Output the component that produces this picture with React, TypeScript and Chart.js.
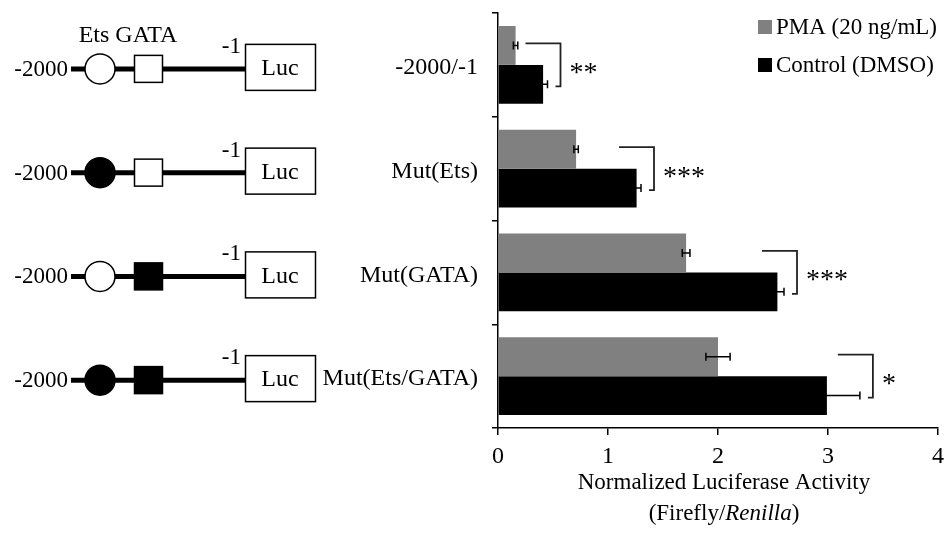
import React, { useEffect, useRef } from "react";
import { Chart, registerables } from "chart.js";

Chart.register(...registerables);

const categories = ["-2000/-1", "Mut(Ets)", "Mut(GATA)", "Mut(Ets/GATA)"];
const pmaValues = [0.16, 0.71, 1.71, 2.0];
const pmaErrors = [0.02, 0.02, 0.035, 0.11];
const controlValues = [0.41, 1.26, 2.54, 2.99];
const controlErrors = [0.04, 0.04, 0.06, 0.3];
const significance = ["**", "***", "***", "*"];
const etsMutated = [false, true, false, true];
const gataMutated = [false, false, true, true];
const seriesNames = ["PMA (20 ng/mL)", "Control (DMSO)"];
const seriesColors = ["#808080", "#000000"];

const SERIF = "'Liberation Serif', 'Times New Roman', serif";

const overlayPlugin = {
  id: "overlay",
  afterDraw(chart: any) {
    const ctx: CanvasRenderingContext2D = chart.ctx;
    const xs = chart.scales.x;
    const ys = chart.scales.y;
    const m0 = chart.getDatasetMeta(0);
    const m1 = chart.getDatasetMeta(1);
    ctx.save();
    ctx.strokeStyle = "#000";
    ctx.fillStyle = "#000";
    ctx.lineWidth = 1.5;

    // error bars
    const drawErr = (meta: any, vals: number[], errs: number[]) => {
      meta.data.forEach((el: any, i: number) => {
        const x1 = xs.getPixelForValue(vals[i] - errs[i]);
        const x2 = xs.getPixelForValue(vals[i] + errs[i]);
        const y = el.y;
        ctx.beginPath();
        ctx.moveTo(x1, y);
        ctx.lineTo(x2, y);
        ctx.moveTo(x1, y - 4);
        ctx.lineTo(x1, y + 4);
        ctx.moveTo(x2, y - 4);
        ctx.lineTo(x2, y + 4);
        ctx.stroke();
      });
    };
    drawErr(m0, pmaValues, pmaErrors);
    drawErr(m1, controlValues, controlErrors);

    // significance brackets
    ctx.strokeStyle = "#222";
    ctx.lineWidth = 1.8;
    categories.forEach((_, i) => {
      const vx = xs.getPixelForValue(controlValues[i] + controlErrors[i]) + 13;
      const yt = m0.data[i].y - 2;
      const yb = m1.data[i].y + 2;
      ctx.beginPath();
      ctx.moveTo(vx - 35, yt);
      ctx.lineTo(vx, yt);
      ctx.lineTo(vx, yb);
      ctx.lineTo(vx - 5, yb);
      ctx.stroke();
      ctx.font = `28px ${SERIF}`;
      ctx.textAlign = "left";
      ctx.textBaseline = "alphabetic";
      ctx.fillStyle = "#000";
      ctx.fillText(significance[i], vx + 9, (yt + yb) / 2 + 16);
    });

    // construct diagrams
    ctx.strokeStyle = "#000";
    categories.forEach((_, i) => {
      const cy = ys.getPixelForValue(i) + 4;
      ctx.font = `23px ${SERIF}`;
      ctx.fillStyle = "#000";
      ctx.textAlign = "right";
      ctx.textBaseline = "middle";
      ctx.fillText("-2000", 68, cy + 1);
      ctx.fillText("-1", 241, cy - 22);
      // thick line
      ctx.lineWidth = 5;
      ctx.beginPath();
      ctx.moveTo(71, cy);
      ctx.lineTo(246, cy);
      ctx.stroke();
      // Ets circle
      ctx.lineWidth = 1.5;
      ctx.beginPath();
      ctx.arc(100, cy, 15, 0, Math.PI * 2);
      ctx.fillStyle = etsMutated[i] ? "#000" : "#fff";
      ctx.fill();
      ctx.stroke();
      // GATA square
      ctx.fillStyle = gataMutated[i] ? "#000" : "#fff";
      ctx.fillRect(134.5, cy - 13.5, 28, 27);
      ctx.strokeRect(134.5, cy - 13.5, 28, 27);
      // Luc box
      ctx.fillStyle = "#fff";
      ctx.fillRect(245.5, cy - 24.5, 70, 46);
      ctx.strokeRect(245.5, cy - 24.5, 70, 46);
      ctx.fillStyle = "#000";
      ctx.textAlign = "center";
      ctx.font = `24px ${SERIF}`;
      ctx.fillText("Luc", 280, cy);
      if (i === 0) {
        ctx.fillText("Ets GATA", 128, cy - 33);
      }
    });

    // legend
    ctx.font = `23px ${SERIF}`;
    ctx.textAlign = "left";
    ctx.textBaseline = "middle";
    const legY = [27, 65];
    seriesNames.forEach((name, k) => {
      ctx.fillStyle = seriesColors[k];
      ctx.fillRect(758, legY[k] - 7, 14, 14);
      ctx.fillStyle = "#000";
      ctx.fillText(name, 776, legY[k] + 1);
    });

    // axis title
    const cx = 724;
    ctx.textAlign = "center";
    ctx.font = `23px ${SERIF}`;
    ctx.fillText("Normalized Luciferase Activity", cx, 483);
    const p1 = "(Firefly/";
    const p2 = "Renilla";
    const p3 = ")";
    ctx.font = `23px ${SERIF}`;
    const w1 = ctx.measureText(p1).width;
    const w3 = ctx.measureText(p3).width;
    ctx.font = `italic 23px ${SERIF}`;
    const w2 = ctx.measureText(p2).width;
    let sx = cx - (w1 + w2 + w3) / 2;
    ctx.textAlign = "left";
    ctx.font = `23px ${SERIF}`;
    ctx.fillText(p1, sx, 514);
    sx += w1;
    ctx.font = `italic 23px ${SERIF}`;
    ctx.fillText(p2, sx, 514);
    sx += w2;
    ctx.font = `23px ${SERIF}`;
    ctx.fillText(p3, sx, 514);

    ctx.restore();
  },
};

export default function App() {
  const ref = useRef<HTMLCanvasElement>(null);
  useEffect(() => {
    if (!ref.current) return;
    const chart = new Chart(ref.current, {
      type: "bar",
      data: {
        labels: categories,
        datasets: [
          {
            label: seriesNames[0],
            data: pmaValues,
            backgroundColor: seriesColors[0],
            categoryPercentage: 0.75,
            barPercentage: 1.0,
          },
          {
            label: seriesNames[1],
            data: controlValues,
            backgroundColor: seriesColors[1],
            categoryPercentage: 0.75,
            barPercentage: 1.0,
          },
        ],
      },
      options: {
        indexAxis: "y",
        responsive: false,
        animation: false,
        layout: { padding: { left: 0, top: 0, right: 10, bottom: 0 } },
        plugins: {
          legend: { display: false },
          tooltip: { enabled: false },
          title: { display: false },
        },
        scales: {
          x: {
            min: 0,
            max: 4,
            ticks: {
              stepSize: 1,
              color: "#000",
              padding: 7,
              font: { family: SERIF, size: 24 },
            },
            grid: {
              drawOnChartArea: false,
              drawTicks: true,
              tickLength: 7,
              color: "#000",
              lineWidth: 1.5,
            },
            border: { color: "#000", width: 1.5 },
            afterFit: (scale: any) => {
              scale.height = 105;
              scale.paddingRight = 3;
            },
          },
          y: {
            ticks: {
              color: "#000",
              padding: 14,
              labelOffset: 3,
              font: { family: SERIF, size: 24 },
            },
            grid: {
              drawOnChartArea: false,
              drawTicks: true,
              tickLength: 6,
              color: "#000",
              lineWidth: 1.5,
              offset: true,
            },
            border: { color: "#000", width: 1.5 },
            afterFit: (scale: any) => {
              scale.width = 498;
              scale.paddingTop = 13;
              scale.paddingBottom = 0;
            },
          },
        },
      },
      plugins: [overlayPlugin],
    } as any);
    return () => chart.destroy();
  }, []);
  return (
    <div style={{ position: "absolute", left: 0, top: 0, width: 948, height: 533, background: "#fff" }}>
      <canvas ref={ref} width={948} height={533} style={{ display: "block" }} />
    </div>
  );
}
